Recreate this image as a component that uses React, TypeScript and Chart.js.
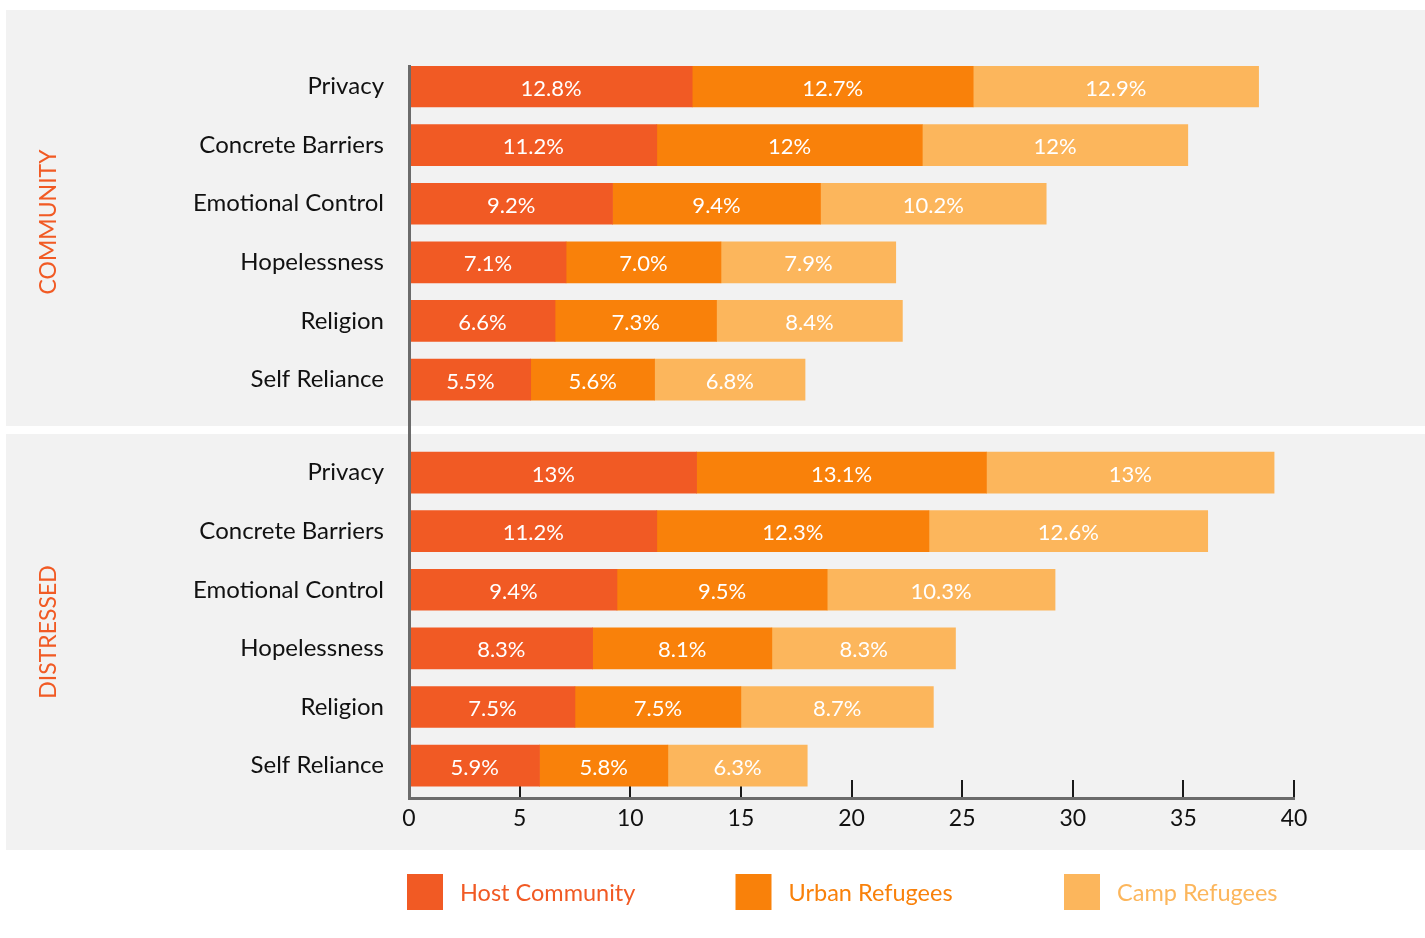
import React, { useEffect, useRef } from 'react';
import { Chart, registerables } from 'chart.js';

Chart.register(...registerables);

// ---------- data ----------
const categories = ['Privacy', 'Concrete Barriers', 'Emotional Control', 'Hopelessness', 'Religion', 'Self Reliance'];
const groupNames = ['COMMUNITY', 'DISTRESSED'];
const seriesNames = ['Host Community', 'Urban Refugees', 'Camp Refugees'];

const hostCommunity = [12.8, 11.2, 9.2, 7.1, 6.6, 5.5];
const urbanCommunity = [12.7, 12, 9.4, 7.0, 7.3, 5.6];
const campCommunity = [12.9, 12, 10.2, 7.9, 8.4, 6.8];

const hostDistressed = [13, 11.2, 9.4, 8.3, 7.5, 5.9];
const urbanDistressed = [13.1, 12.3, 9.5, 8.1, 7.5, 5.8];
const campDistressed = [13, 12.6, 10.3, 8.3, 8.7, 6.3];

const xTickValues = [0, 5, 10, 15, 20, 25, 30, 35, 40];

// ---------- style ----------
const COLORS = ['#F15A24', '#F9810A', '#FCB65C'];
const FONT = 'Lato, "Open Sans", sans-serif';
const GROUP_GAP = 0.587;
const Y_MIN = -0.35;
const Y_MAX = 12.14;

const seriesByGroup = [
  [hostCommunity, hostDistressed],
  [urbanCommunity, urbanDistressed],
  [campCommunity, campDistressed],
];

const rowPos = (g: number, i: number) => g * (categories.length + GROUP_GAP) + i;
const rowPositions = groupNames.flatMap((_, g) => categories.map((__, i) => rowPos(g, i)));
const rowLabels = groupNames.flatMap(() => categories);

const fmt = (v: number) => (Number.isInteger(v) && v >= 10 ? String(v) : v.toFixed(1)) + '%';

const panelsPlugin = {
  id: 'panels',
  beforeDraw(chart: any) {
    const ctx = chart.ctx;
    ctx.save();
    ctx.fillStyle = '#ffffff';
    ctx.fillRect(0, 0, chart.width, chart.height);
    ctx.fillStyle = '#F2F2F2';
    ctx.fillRect(6, 10, chart.width - 6, 416);
    ctx.fillRect(6, 434, chart.width - 6, 416);
    // group labels
    ctx.fillStyle = COLORS[0];
    ctx.font = `400 23px ${FONT}`;
    ctx.textAlign = 'center';
    ctx.textBaseline = 'middle';
    const centers = [222, 632];
    groupNames.forEach((name, g) => {
      ctx.save();
      ctx.translate(49, centers[g]);
      ctx.rotate(-Math.PI / 2);
      ctx.fillText(name, 0, 0);
      ctx.restore();
    });
    ctx.restore();
  },
};

const barLabelsPlugin = {
  id: 'barLabels',
  afterDatasetsDraw(chart: any) {
    const ctx = chart.ctx;
    ctx.save();
    ctx.fillStyle = '#ffffff';
    ctx.font = `400 22px ${FONT}`;
    ctx.textAlign = 'center';
    ctx.textBaseline = 'middle';
    chart.data.datasets.forEach((ds: any, di: number) => {
      const meta = chart.getDatasetMeta(di);
      meta.data.forEach((el: any, i: number) => {
        const { x, y, base } = el.getProps(['x', 'y', 'base'], true);
        ctx.fillText(fmt(ds.data[i].x), (x + base) / 2, y + 2);
      });
    });
    ctx.restore();
  },
};

const legendPlugin = {
  id: 'customLegend',
  afterDraw(chart: any) {
    const ctx = chart.ctx;
    ctx.save();
    ctx.font = `400 23.5px ${FONT}`;
    ctx.textAlign = 'left';
    ctx.textBaseline = 'middle';
    chart.data.datasets.forEach((ds: any, i: number) => {
      const x0 = 407 + i * 328.5;
      ctx.fillStyle = ds.backgroundColor;
      ctx.fillRect(x0, 874, 36, 36);
      ctx.fillText(ds.label, x0 + 53, 893);
    });
    ctx.restore();
  },
};

export default function App() {
  const ref = useRef<HTMLCanvasElement | null>(null);

  useEffect(() => {
    if (!ref.current) return;
    const datasets = seriesNames.map((name, s) => ({
      label: name,
      data: seriesByGroup[s].flatMap((arr, g) => arr.map((v, i) => ({ x: v, y: rowPos(g, i) }))),
      backgroundColor: COLORS[s],
      borderWidth: 0,
      barThickness: 41,
    }));

    const chart = new Chart(ref.current, {
      type: 'bar',
      data: { datasets },
      plugins: [panelsPlugin, barLabelsPlugin, legendPlugin],
      options: {
        indexAxis: 'y',
        animation: false,
        responsive: false,
        layout: { padding: { left: 0, right: 131, top: 66, bottom: 100 } },
        plugins: { legend: { display: false }, tooltip: { enabled: false } },
        scales: {
          x: {
            type: 'linear',
            stacked: true,
            offset: false,
            min: 0,
            max: 40,
            afterBuildTicks: (scale: any) => {
              scale.ticks = xTickValues.map((v) => ({ value: v }));
            },
            afterFit: (scale: any) => {
              scale.height = 40;
            },
            grid: {
              display: true,
              offset: false,
              drawOnChartArea: false,
              drawTicks: true,
              tickLength: -18,
              color: '#1a1a1a',
              lineWidth: 2,
            },
            border: { display: true, color: '#6b6b6b', width: 3, z: 1 },
            ticks: {
              color: '#111111',
              font: { family: FONT, size: 23, weight: '400' },
              padding: 25,
              autoSkip: false,
              maxRotation: 0,
            },
          },
          y: {
            type: 'linear',
            stacked: true,
            reverse: true,
            offset: false,
            min: Y_MIN,
            max: Y_MAX,
            afterBuildTicks: (scale: any) => {
              scale.ticks = rowPositions.map((v) => ({ value: v }));
            },
            afterFit: (scale: any) => {
              scale.width = 409;
            },
            grid: { display: false, drawTicks: false, offset: false },
            border: { display: true, color: '#6b6b6b', width: 3, z: 1 },
            ticks: {
              color: '#111111',
              font: { family: FONT, size: 24, weight: '400' },
              padding: 25,
              autoSkip: false,
              callback: (_v: any, index: number) => rowLabels[index],
            },
          },
        },
      } as any,
    });
    return () => chart.destroy();
  }, []);

  return (
    <div style={{ position: 'absolute', left: 0, top: 0, width: 1425, height: 938 }}>
      <canvas ref={ref} width={1425} height={938} style={{ display: 'block' }} />
    </div>
  );
}
